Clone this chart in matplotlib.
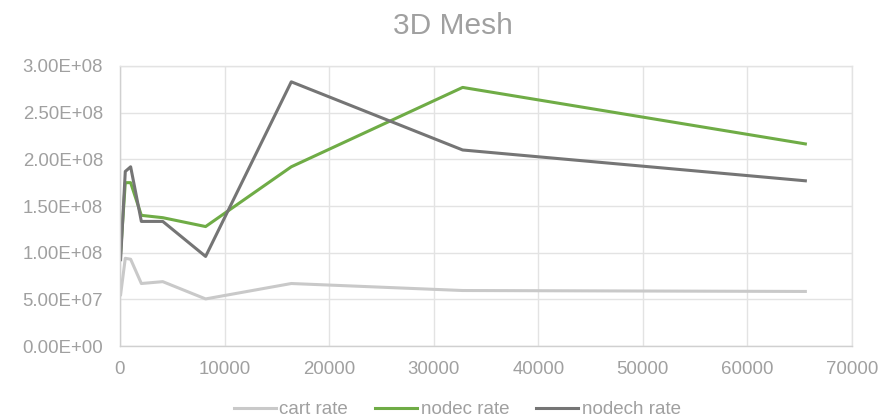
import matplotlib.pyplot as plt
from matplotlib.ticker import FuncFormatter

plt.rcParams["font.family"] = ["Liberation Sans", "DejaVu Sans"]

sizes = [64, 512, 1024, 2048, 4096, 8192, 16384, 32768, 65536]
cart_rate = [5.5e7, 9.4e7, 9.3e7, 6.7e7, 6.9e7, 5.05e7, 6.7e7, 5.95e7, 5.85e7]
nodec_rate = [1.0e8, 1.75e8, 1.75e8, 1.40e8, 1.375e8, 1.28e8, 1.92e8, 2.77e8, 2.165e8]
nodech_rate = [9.25e7, 1.87e8, 1.92e8, 1.335e8, 1.335e8, 9.6e7, 2.83e8, 2.10e8, 1.77e8]

TEXT = "#A0A0A0"
GRID = "#E3E3E3"


def sci(v, pos):
    mant, exp = f"{v:.2E}".split("E")
    return f"{mant}E{exp[0]}{int(exp[1:]):02d}"


def main():
    fig = plt.figure(figsize=(8.95, 4.2), dpi=100)
    ax = fig.add_axes([0.134, 0.176, 0.818, 0.667])

    ax.plot(sizes, cart_rate, color="#C9C9C9", lw=2.2, label="cart rate")
    ax.plot(sizes, nodec_rate, color="#6FAC46", lw=2.2, label="nodec rate")
    ax.plot(sizes, nodech_rate, color="#757575", lw=2.2, label="nodech rate")

    ax.set_xlim(0, 70000)
    ax.set_ylim(0, 3e8)
    ax.set_xticks(range(0, 70001, 10000))
    ax.set_yticks([i * 5e7 for i in range(7)])
    ax.yaxis.set_major_formatter(FuncFormatter(sci))

    ax.grid(True, color=GRID, lw=1)
    ax.set_axisbelow(True)
    for s in ax.spines.values():
        s.set_color(GRID)
        s.set_linewidth(1)
    ax.spines["left"].set_color("#D0D0D0")
    ax.spines["bottom"].set_color("#D0D0D0")
    ax.tick_params(axis="x", length=0, labelsize=13.4, colors=TEXT, pad=10.4)
    ax.tick_params(axis="y", length=0, labelsize=13.4, colors=TEXT, pad=12.2)

    fig.text(0.506, 0.918, "3D Mesh", fontsize=21.5, color=TEXT,
             ha="center", va="baseline")

    fig.legend(loc="center", bbox_to_anchor=(0.511, 0.024), ncol=3,
               frameon=False, fontsize=13.5, labelcolor=TEXT, handlelength=2.24,
               handletextpad=0.2, columnspacing=1.44)

    plt.savefig("out.png", dpi=100)
    plt.close()


if __name__ == "__main__":
    main()
